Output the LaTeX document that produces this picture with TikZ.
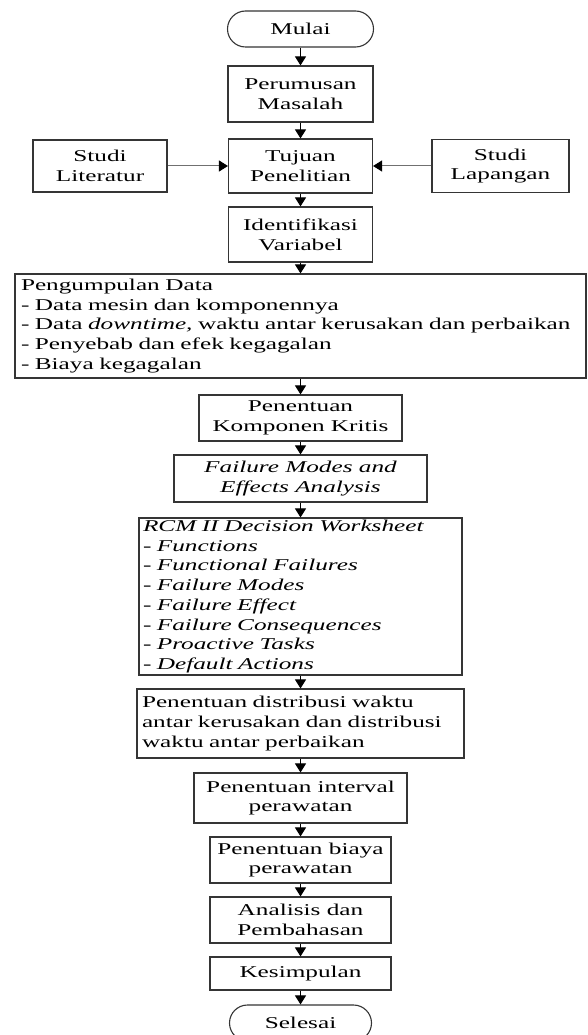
\documentclass[tikz,border=0pt]{standalone}
\usepackage{fontspec}
\setmainfont{Liberation Serif}[FakeStretch=1.53]
\usetikzlibrary{arrows.meta}
\definecolor{edgegray}{HTML}{353535}
\definecolor{sidegray}{HTML}{707070}
\newcommand\ffont{\fontsize{16.5}{19.7}\selectfont}
\tikzset{
  box/.style={draw=edgegray, line width=1.1pt, inner sep=0pt, align=center, font=\ffont},
  leftbox/.style={box, align=left},
  term/.style={box, rounded corners=18pt},
  arr/.style={-{Triangle[width=11pt,length=9pt,color=black,fill=black]}, line width=1pt, black},
  sidearr/.style={-{Triangle[width=11pt,length=9pt,color=black,fill=black]}, line width=1pt, sidegray},
}
\begin{document}
\begin{tikzpicture}[x=1pt,y=-1pt]
\useasboundingbox (0,0) rectangle (587,1035);
\clip (0,0) rectangle (587,1035);
\fill[white] (0,0) rectangle (587,1035);

\node[term, minimum width=146pt, minimum height=36pt] (mulai) at (300.5,29) {Mulai};
\node[box, minimum width=145pt, minimum height=56pt] (perumusan) at (300.5,94) {Perumusan\\Masalah};
\node[box, minimum width=144pt, minimum height=54pt] (tujuan) at (300.5,166) {Tujuan\\Penelitian};
\node[box, minimum width=134pt, minimum height=52pt] (lit) at (100,166) {Studi\\Literatur};
\node[box, minimum width=137pt, minimum height=53pt] (lap) at (500.5,166) {Studi\\Lapangan};
\node[box, minimum width=144pt, minimum height=55pt] (ident) at (300.5,234.5) {Identifikasi\\Variabel};
\node[leftbox, minimum width=571pt, minimum height=104pt, text width=559pt] (data) at (300.5,326)
  {\mbox{Pengumpulan Data}\\
   \mbox{- Data mesin dan komponennya}\\
   \mbox{- Data \textit{downtime,} waktu antar kerusakan dan perbaikan}\\
   \mbox{- Penyebab dan efek kegagalan}\\
   \mbox{- Biaya kegagalan}};
\node[box, minimum width=203pt, minimum height=46pt] (kritis) at (300.5,418) {Penentuan\\Komponen Kritis};
\node[box, minimum width=253pt, minimum height=47pt, font=\ffont\itshape] (fmea) at (300.5,478.5) {Failure Modes and\\Effects Analysis};
\node[leftbox, minimum width=323pt, minimum height=157pt, text width=315pt, font=\ffont\itshape] (rcm) at (300.5,596.5)
  {\mbox{RCM II Decision Worksheet}\\
   \mbox{- Functions}\\
   \mbox{- Functional Failures}\\
   \mbox{- Failure Modes}\\
   \mbox{- Failure Effect}\\
   \mbox{- Failure Consequences}\\
   \mbox{- Proactive Tasks}\\
   \mbox{- Default Actions}};
\node[leftbox, minimum width=327pt, minimum height=69pt, text width=317pt] (dist) at (300.5,723.5)
  {\mbox{Penentuan distribusi waktu}\\
   \mbox{antar kerusakan dan distribusi}\\
   \mbox{waktu antar perbaikan}};
\node[box, minimum width=213pt, minimum height=50pt] (interval) at (300.5,798) {Penentuan interval\\perawatan};
\node[box, minimum width=181pt, minimum height=46pt] (biaya) at (300.5,860) {Penentuan biaya\\perawatan};
\node[box, minimum width=181pt, minimum height=46pt] (analisis) at (300.5,920) {Analisis dan\\Pembahasan};
\node[box, minimum width=181pt, minimum height=33pt] (kesimpulan) at (300.5,973.5) {Kesimpulan};
\node[term, minimum width=142pt, minimum height=36pt] (selesai) at (300.5,1023) {Selesai};

\draw[arr] (mulai.south) -- (perumusan.north);
\draw[arr] (perumusan.south) -- (tujuan.north);
\draw[arr] (tujuan.south) -- (ident.north);
\draw[arr] (ident.south) -- (data.north);
\draw[arr] (data.south) -- (kritis.north);
\draw[arr] (kritis.south) -- (fmea.north);
\draw[arr] (fmea.south) -- (rcm.north);
\draw[arr] (rcm.south) -- (dist.north);
\draw[arr] (dist.south) -- (interval.north);
\draw[arr] (interval.south) -- (biaya.north);
\draw[arr] (biaya.south) -- (analisis.north);
\draw[arr] (analisis.south) -- (kesimpulan.north);
\draw[arr] (kesimpulan.south) -- (selesai.north);
\draw[sidearr] (lit.east) -- (tujuan.west);
\draw[sidearr] (lap.west) -- (tujuan.east);
\end{tikzpicture}
\end{document}
